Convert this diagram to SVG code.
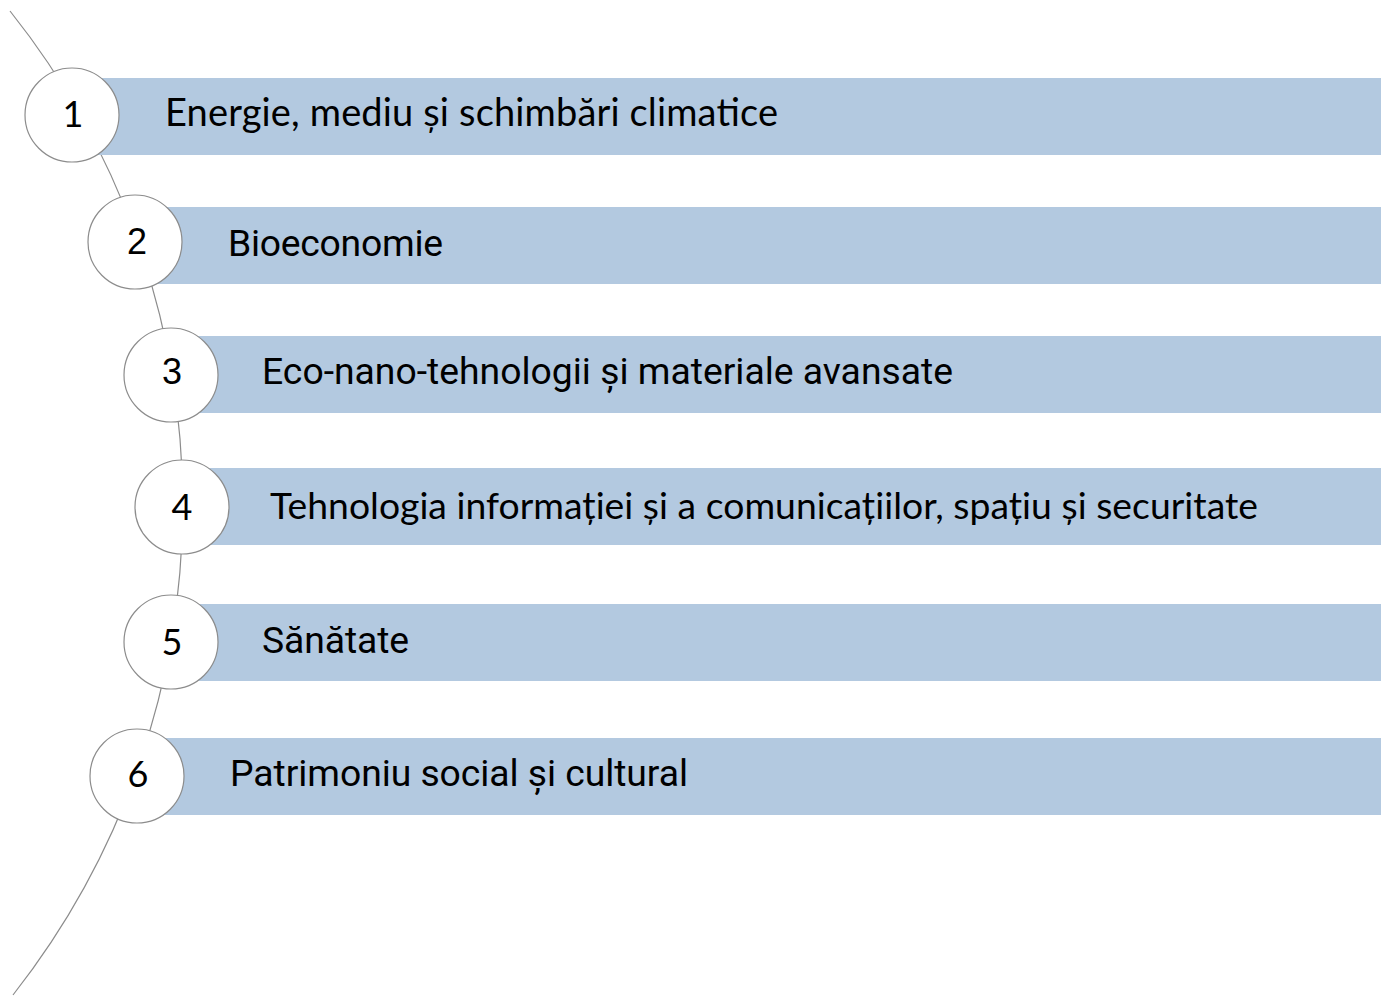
<svg xmlns="http://www.w3.org/2000/svg" width="1381" height="997" viewBox="0 0 1381 997">
<style>
.bar{fill:#b3c9e0}
.node circle{fill:#ffffff;stroke:#8c8c8c;stroke-width:1.2}
.arc{fill:none;stroke:#8c8c8c;stroke-width:1.2}
.num{font-size:36px;fill:#000;text-anchor:middle}
.lbl{font-size:37.3px;fill:#000}
.lato{font-family:Lato,"Liberation Sans",sans-serif}
.rob{font-family:Roboto,"Liberation Sans",sans-serif}
.ari{font-family:"Liberation Sans",Arial,sans-serif}
</style>
<rect width="1381" height="997" fill="#ffffff"/>
<g id="connectors">
<path class="arc" d="M 10 11 A 792.5 792.5 0 0 1 13 995"/>
</g>
<g id="node1" class="node">
<rect class="bar" x="72" y="78" width="1309" height="77"/>
<circle cx="72" cy="115" r="47"/>
<text class="num lato" x="73" y="127">1</text>
<text class="lbl lato" x="165" y="126" style="font-size:38px" textLength="613">Energie, mediu și schimbări climatice</text>
</g>
<g id="node2" class="node">
<rect class="bar" x="135" y="207" width="1246" height="77"/>
<circle cx="135" cy="242" r="47"/>
<text class="num ari" x="137" y="254">2</text>
<text class="lbl rob" x="228" y="256" textLength="215">Bioeconomie</text>
</g>
<g id="node3" class="node">
<rect class="bar" x="171" y="336" width="1210" height="77"/>
<circle cx="171" cy="375" r="47"/>
<text class="num ari" x="172" y="384">3</text>
<text class="lbl rob" x="262" y="384" textLength="691">Eco-nano-tehnologii și materiale avansate</text>
</g>
<g id="node4" class="node">
<rect class="bar" x="182" y="468" width="1199" height="77"/>
<circle cx="182" cy="507" r="47"/>
<text class="num lato" x="182" y="520">4</text>
<text class="lbl lato" x="270" y="519" textLength="988">Tehnologia informației și a comunicațiilor, spațiu și securitate</text>
</g>
<g id="node5" class="node">
<rect class="bar" x="171" y="604" width="1210" height="77"/>
<circle cx="171" cy="642" r="47"/>
<text class="num lato" x="172" y="655">5</text>
<text class="lbl rob" x="262" y="653" textLength="147">Sănătate</text>
</g>
<g id="node6" class="node">
<rect class="bar" x="137" y="738" width="1244" height="77"/>
<circle cx="137" cy="776" r="47"/>
<text class="num lato" x="138" y="787">6</text>
<text class="lbl rob" x="230" y="786" textLength="458">Patrimoniu social și cultural</text>
</g>
</svg>
